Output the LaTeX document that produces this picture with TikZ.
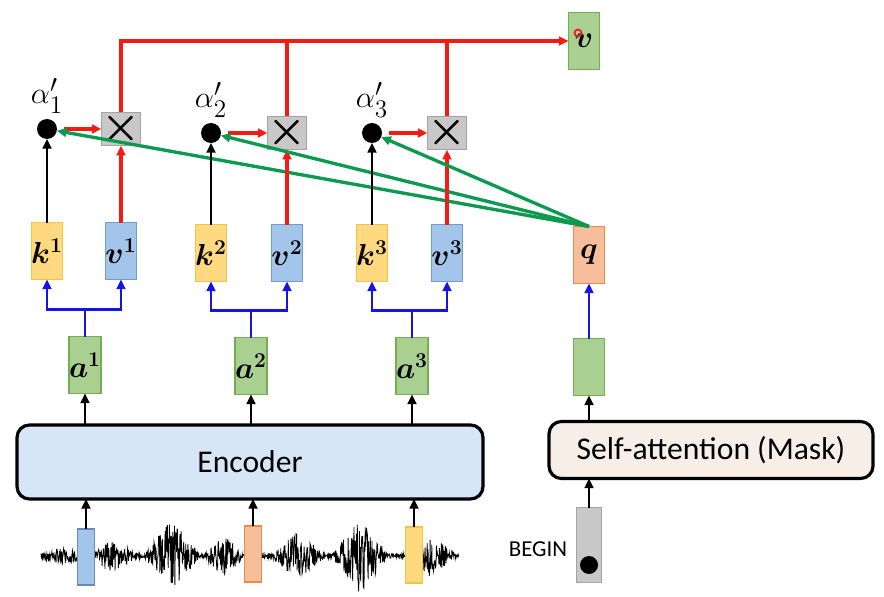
\documentclass[tikz,border=0pt]{standalone}
\usepackage{fontspec}
\usepackage{amsmath}
\usepackage{bm}
\newfontfamily\calib{Carlito}
\usetikzlibrary{arrows.meta,positioning}

\definecolor{keyfill}{HTML}{FFD97F}
\definecolor{keydraw}{HTML}{F2C446}
\definecolor{valfill}{HTML}{A4C5EA}
\definecolor{valdraw}{HTML}{6F9BD2}
\definecolor{embfill}{HTML}{A9CF91}
\definecolor{embdraw}{HTML}{74AD52}
\definecolor{qfill}{HTML}{F7BE9C}
\definecolor{qdraw}{HTML}{EC8A4C}
\definecolor{mulfill}{HTML}{C8C8C8}
\definecolor{muldraw}{HTML}{A4A4A4}
\definecolor{encfill}{HTML}{D6E6F6}
\definecolor{safill}{HTML}{F7EFE7}
\definecolor{attred}{HTML}{F21C14}
\definecolor{attgreen}{HTML}{0D9A50}
\definecolor{attblue}{HTML}{1414E6}

\begin{document}
\begin{tikzpicture}[x=0.02cm, y=-0.02cm,
  every node/.style = {inner sep = 0, outer sep = 0},
  vec/.style = {rectangle, line width = 0.7pt, minimum width = 0.62cm,
    minimum height = 1.14cm, font = \fontsize{18}{20}\selectfont},
  keybox/.style = {vec, fill = keyfill, draw = keydraw},
  valbox/.style = {vec, fill = valfill, draw = valdraw},
  embbox/.style = {vec, fill = embfill, draw = embdraw},
  qbox/.style = {vec, fill = qfill, draw = qdraw},
  mulbox/.style = {rectangle, fill = mulfill, draw = muldraw, line width = 0.7pt,
    minimum size = 0.64cm, font = \fontsize{26}{26}\selectfont},
  scoredot/.style = {circle, fill = black, minimum size = 0.4cm},
  encbox/.style = {rectangle, rounded corners = 7pt, draw = black, line width = 1.8pt,
    font = \calib\fontsize{18}{22}\selectfont},
  wavebox/.style = {rectangle, line width = 0.7pt, minimum width = 0.34cm,
    minimum height = 1.12cm},
  tip/.style = {-{Triangle[length = 5.5pt, width = 5pt]}},
  blackarr/.style = {tip, line width = 1.3pt, black},
  redarr/.style = {tip, line width = 1.9pt, attred},
  redline/.style = {line width = 1.9pt, attred},
  greenarr/.style = {tip, line width = 1.9pt, attgreen},
  bluearr/.style = {tip, line width = 1.4pt, attblue},
]
\useasboundingbox (0,0) rectangle (884,597);

% keys and values
\node (k1) [keybox] at (47,251) {$\bm{k}^{\bm{1}}$};
\node (v1) [valbox] at (121,251) {$\bm{v}^{\bm{1}}$};
\node (k2) [keybox] at (211,253) {$\bm{k}^{\bm{2}}$};
\node (v2) [valbox] at (287,253) {$\bm{v}^{\bm{2}}$};
\node (k3) [keybox] at (372,253) {$\bm{k}^{\bm{3}}$};
\node (v3) [valbox] at (447,253) {$\bm{v}^{\bm{3}}$};
\node (q) [qbox] at (589,255) {$\bm{q}$};

% scores and products
\node (d1) [scoredot] at (47,129) {};
\node (d2) [scoredot] at (211,133) {};
\node (d3) [scoredot] at (372,133) {};
\node (l1) [above = 3pt of d1, font = \fontsize{19}{20}\selectfont] {$\alpha'_1$};
\node (l2) [above = 3pt of d2, font = \fontsize{19}{20}\selectfont] {$\alpha'_2$};
\node (l3) [above = 3pt of d3, font = \fontsize{19}{20}\selectfont] {$\alpha'_3$};
\node (m1) [mulbox] at (121,129) {$\bm{\times}$};
\node (m2) [mulbox] at (287,133) {$\bm{\times}$};
\node (m3) [mulbox] at (447,133) {$\bm{\times}$};
\node (vout) [embbox] at (584,41) {$\bm{v}$};
\node (cursor) [circle, draw = attred, line width = 1pt, minimum size = 0.14cm] at (578,33) {};

% encoder side
\node (a1) [embbox] at (85,365) {$\bm{a}^{\bm{1}}$};
\node (a2) [embbox] at (251,366) {$\bm{a}^{\bm{2}}$};
\node (a3) [embbox] at (412,366) {$\bm{a}^{\bm{3}}$};
\node (enc) [encbox, fill = encfill, minimum width = 9.32cm, minimum height = 1.48cm]
  at (250,462) {Encoder};

% waveform
\draw[line width = 0.45pt] plot[domain = 41:459, samples = 1000]
  (\x, {556 + rand*(2.5 + 8*max(0,1-abs(\x-62)/22) + 15*max(0,1-abs(\x-112)/24)
    + 34*max(0,1-abs(\x-172)/28) + 18*max(0,1-abs(\x-224)/20)
    + 22*max(0,1-abs(\x-298)/26) + 36*max(0,1-abs(\x-360)/28)
    + 18*max(0,1-abs(\x-430)/26))});
\node (w1) [wavebox, fill = valfill, draw = valdraw!90!black] at (86,557) {};
\node (w2) [wavebox, fill = qfill, draw = qdraw] at (253,554) {};
\node (w3) [wavebox, fill = keyfill, draw = keydraw] at (414,555) {};

% decoder side
\node (g) [embbox] at (589,367) {};
\node (sa) [encbox, fill = safill, minimum width = 6.48cm, minimum height = 1.14cm]
  at (711,450) {Self-attention (Mask)};
\node (bg) [rectangle, fill = mulfill, draw = muldraw, line width = 0.7pt,
  minimum width = 0.5cm, minimum height = 1.5cm] at (589,545) {};
\node (bgdot) [scoredot, minimum size = 0.36cm] at (589,565) {};
\node (begin) [font = \calib\fontsize{13}{15}\selectfont] at (538,549) {BEGIN};

% connectors
\foreach \i in {1,2,3}{
  \draw[blackarr] (w\i.north) -- (w\i.north |- enc.south);
  \draw[blackarr] (a\i.south |- enc.north) -- (a\i.south);
  \draw[bluearr] (a\i.north) -- ++(0,-27) -| (k\i.south);
  \draw[bluearr] (a\i.north) ++(0,-27) -| (v\i.south);
  \draw[blackarr] (k\i.north) -- (d\i.south);
  \draw[redarr] (v\i.north) -- (m\i.south);
  \draw[redarr, shorten <= 4pt] (d\i.east) -- (m\i.west);
  \draw[greenarr] (q.north) -- (d\i);
}
\draw[redarr] (m1.north) |- (vout.west);
\draw[redline] (m2.north) -- (m2.north |- vout.west);
\draw[redline] (m3.north) -- (m3.north |- vout.west);
\draw[bluearr] (g.north) -- (q.south);
\draw[blackarr] (g.south |- sa.north) -- (g.south);
\draw[blackarr] (bg.north) -- (bg.north |- sa.south);
\end{tikzpicture}
\end{document}
